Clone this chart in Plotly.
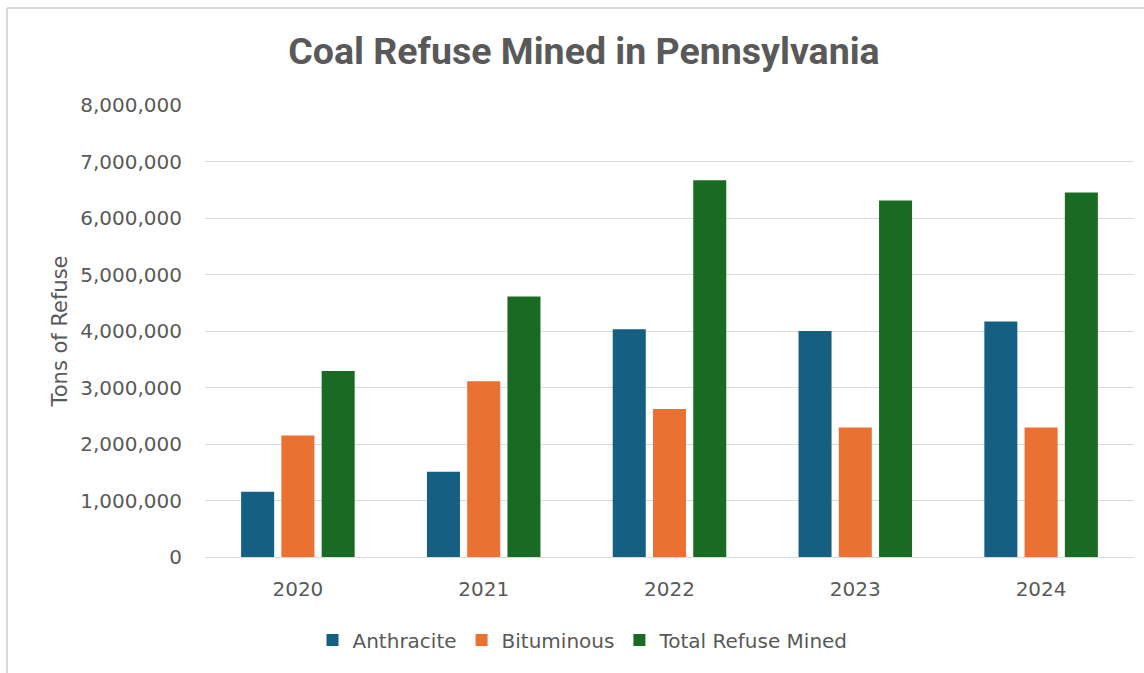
import plotly.graph_objects as go

years = ["2020", "2021", "2022", "2023", "2024"]
anthracite = [1155000, 1510000, 4030000, 4000000, 4170000]
bituminous = [2150000, 3110000, 2620000, 2290000, 2290000]
total_refuse = [3290000, 4610000, 6670000, 6310000, 6450000]
y_ticks = [0, 1000000, 2000000, 3000000, 4000000, 5000000, 6000000, 7000000, 8000000]

W, H = 1144, 673
L, R, T, B = 205, 10, 105, 116
pw, ph = W - L - R, H - T - B

def px(x):
    return (x - L) / pw

def py(y):
    return (H - B - y) / ph

grey = "#595959"
font = "DejaVu Sans, sans-serif"

fig = go.Figure()
fig.add_bar(name="Anthracite", x=years, y=anthracite, marker_color="#156082")
fig.add_bar(name="Bituminous", x=years, y=bituminous, marker_color="#E97132")
fig.add_bar(name="Total Refuse Mined", x=years, y=total_refuse, marker_color="#196B24")

fig.update_traces(marker_line_width=0)

fig.update_layout(
    width=W, height=H,
    margin=dict(l=L, r=R, t=T, b=B),
    paper_bgcolor="white", plot_bgcolor="white",
    barmode="group", bargap=0.35, bargroupgap=0.18,
    title=dict(text="<b>Coal Refuse Mined in Pennsylvania</b>", x=584 / W, xanchor="center",
               y=1 - 51 / H, yanchor="middle",
               font=dict(family="Roboto, Open Sans, sans-serif", size=37.5, color=grey)),
    font=dict(family=font, color=grey, size=20),
    legend=dict(orientation="h", x=px(583), xanchor="center", y=py(640), yanchor="middle",
                font=dict(family=font, size=20, color=grey), itemwidth=30, tracegroupgap=0),
    showlegend=True,
    shapes=[
        dict(type="line", xref="paper", yref="paper", x0=px(7), x1=px(7), y0=py(8), y1=py(673),
             line=dict(color="#d9d9d9", width=2)),
        dict(type="line", xref="paper", yref="paper", x0=px(7), x1=px(1144), y0=py(8), y1=py(8),
             line=dict(color="#d9d9d9", width=2)),
    ],
)

fig.update_yaxes(
    range=[0, 8000000], tickvals=y_ticks, tickformat=",d",
    showgrid=True, gridcolor="#d9d9d9", gridwidth=1,
    zeroline=False, showline=False,
    ticks="", ticklen=0, ticklabelstandoff=22,
    tickfont=dict(family=font, size=20, color=grey),
    title=dict(text="Tons of Refuse", font=dict(family=font, size=21, color=grey), standoff=6),
)
fig.update_xaxes(
    showline=True, linecolor="#d9d9d9", linewidth=1,
    showgrid=False, ticks="", ticklabelstandoff=14,
    tickfont=dict(family=font, size=20, color=grey),
)

fig.write_html("out.html")
